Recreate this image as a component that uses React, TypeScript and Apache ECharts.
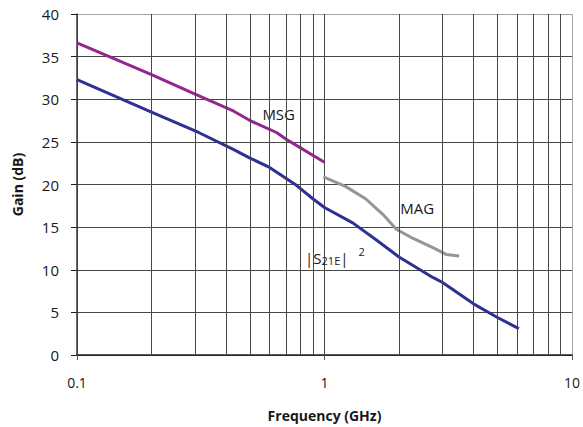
import React, { useEffect, useRef } from "react";
import * as echarts from "echarts";

// Frequency (GHz) / gain (dB) readings
const msgFreq = [0.1, 0.2, 0.3, 0.43, 0.5, 0.64, 0.7, 0.8, 0.9, 1.0];
const msgGain = [36.6, 32.9, 30.6, 28.6, 27.5, 26.1, 25.3, 24.3, 23.4, 22.6];

const s21Freq = [0.1, 0.2, 0.31, 0.43, 0.5, 0.6, 0.77, 0.9, 1.0, 1.3, 1.6, 2.0, 2.74, 3.0, 4.0, 5.0, 6.1];
const s21Gain = [32.3, 28.5, 26.1, 24.1, 23.1, 22.0, 19.9, 18.3, 17.3, 15.5, 13.6, 11.5, 9.1, 8.5, 6.0, 4.4, 3.1];

const magFreq = [0.99, 1.22, 1.47, 1.72, 1.95, 2.27, 2.74, 3.1, 3.5];
const magGain = [20.9, 19.75, 18.3, 16.5, 14.75, 13.7, 12.6, 11.8, 11.6];

const minorGridFreq = [0.2, 0.3, 0.4, 0.5, 0.6, 0.7, 0.8, 0.9, 2, 3, 4, 5, 6, 7, 8, 9];
const yTicks = [0, 5, 10, 15, 20, 25, 30, 35, 40];

const annotations = [
  { name: "MSG", freq: 0.653, gain: 28.3, align: "center" },
  { name: "MAG", freq: 2.37, gain: 17.3, align: "center" },
  { name: "S21E", freq: 0.835, gain: 11.4, align: "left" },
];

const FONT = "'Open Sans', 'Noto Sans', sans-serif";
const GRID = "#474747";
const TEXT = "#1a1718";

export default function App() {
  const ref = useRef<HTMLDivElement>(null);
  useEffect(() => {
    if (!ref.current) return;
    const chart = echarts.init(ref.current, undefined, { renderer: "svg" });
    const pair = (xs: number[], ys: number[]) => xs.map((x, i) => [x, ys[i]]);
    chart.setOption({
      animation: false,
      backgroundColor: "#ffffff",
      textStyle: { fontFamily: FONT },
      grid: { left: 77, right: 10, top: 14, bottom: 71 },
      xAxis: {
        type: "log",
        logBase: 10,
        min: 0.1,
        max: 10,
        name: "Frequency (GHz)",
        nameLocation: "middle",
        nameGap: 53,
        nameTextStyle: { fontFamily: FONT, fontSize: 14, fontWeight: "bold", color: TEXT },
        axisLine: { show: true, lineStyle: { color: "#231f20", width: 1.5 } },
        axisTick: { show: true, length: 5, inside: false, lineStyle: { color: "#555", width: 1 } },
        axisLabel: {
          fontFamily: FONT,
          fontSize: 14,
          color: TEXT,
          margin: 20,
          formatter: (v: number) => (v < 1 ? String(v) : String(Math.round(v))),
        },
        splitLine: { show: true, lineStyle: { color: [GRID, GRID, "#a6a6a6"], width: 1 } },
      },
      yAxis: {
        type: "value",
        min: 0,
        max: 40,
        interval: 5,
        name: "Gain (dB)",
        nameLocation: "middle",
        nameGap: 53,
        nameTextStyle: { fontFamily: FONT, fontSize: 14, fontWeight: "bold", color: TEXT },
        axisLine: { show: true, lineStyle: { color: "#3d3d3d", width: 1.5 } },
        axisTick: { show: true, length: 6, inside: false, lineStyle: { color: "#231f20", width: 1 } },
        axisLabel: {
          fontFamily: FONT,
          fontSize: 15,
          color: TEXT,
          margin: 18,
          formatter: (v: number) => (yTicks.includes(v) ? String(v) : ""),
        },
        splitLine: {
          show: true,
          lineStyle: {
            color: [GRID, GRID, GRID, GRID, GRID, GRID, GRID, GRID, "#a6a6a6"],
            width: 1,
          },
        },
      },
      series: [
        {
          name: "minorGrid",
          type: "line",
          data: [],
          z: 1,
          silent: true,
          markLine: {
            silent: true,
            symbol: ["none", "none"],
            label: { show: false },
            animation: false,
            lineStyle: { color: GRID, width: 1, type: "solid" },
            data: minorGridFreq.map((f) => ({ xAxis: f })),
          },
        },
        {
          name: "MSG",
          type: "line",
          data: pair(msgFreq, msgGain),
          showSymbol: false,
          symbol: "none",
          z: 3,
          lineStyle: { color: "#92278f", width: 3 },
        },
        {
          name: "|S21E|^2",
          type: "line",
          data: pair(s21Freq, s21Gain),
          showSymbol: false,
          symbol: "none",
          z: 3,
          lineStyle: { color: "#2e3192", width: 3 },
        },
        {
          name: "MAG",
          type: "line",
          data: pair(magFreq, magGain),
          showSymbol: false,
          symbol: "none",
          z: 3,
          lineStyle: { color: "#939598", width: 3 },
        },
        {
          name: "labels",
          type: "scatter",
          symbolSize: 0,
          z: 4,
          silent: true,
          itemStyle: { opacity: 1 },
          data: annotations.map((a) => ({
            value: [a.freq, a.gain],
            name: a.name,
            label: {
              show: true,
              position: "inside",
              align: a.align,
              verticalAlign: "middle",
              fontFamily: FONT,
              fontSize: 15,
              color: TEXT,
              formatter: a.name === "S21E" ? "|S{sub|21E}|{sup|2}" : a.name,
              rich: {
                sub: { fontSize: 11, fontFamily: FONT, color: TEXT, padding: [5, 0, 0, 0] },
                sup: { fontSize: 11, fontFamily: FONT, color: TEXT, padding: [0, 0, 13, 10] },
              },
            },
          })),
        },
      ],
    });
    return () => chart.dispose();
  }, []);
  return (
    <div
      ref={ref}
      style={{ position: "fixed", left: 0, top: 0, width: 583, height: 427, background: "#fff" }}
    />
  );
}
